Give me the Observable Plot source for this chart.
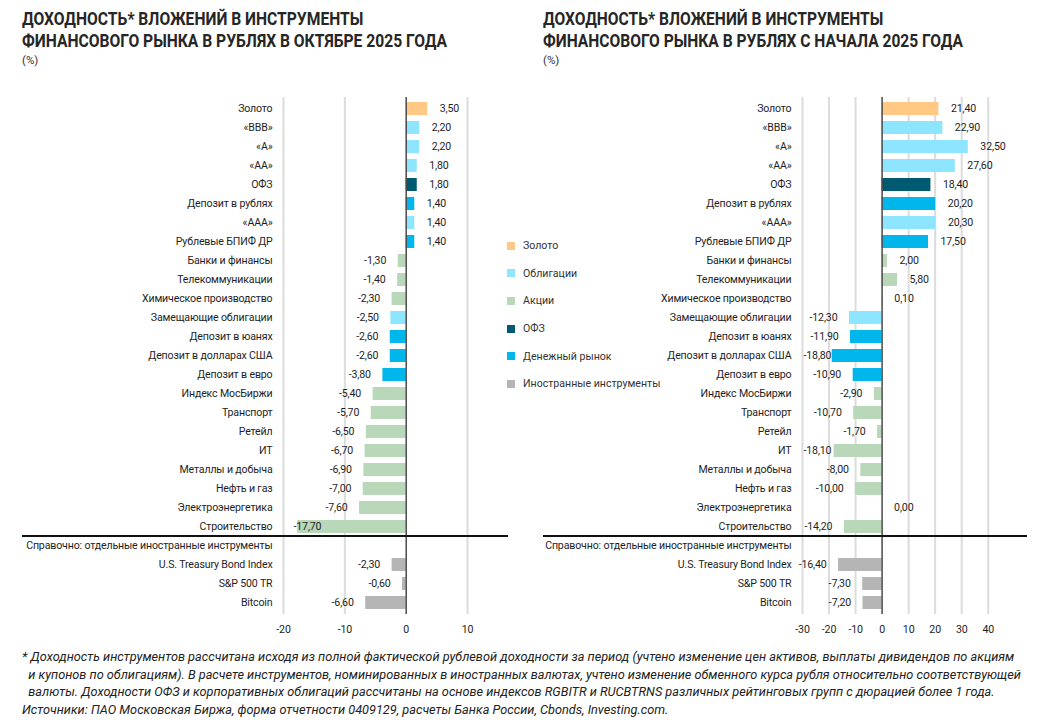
<!DOCTYPE html>
<html><head><meta charset="utf-8">
<script src="https://cdn.jsdelivr.net/npm/d3@7"></script>
<script src="https://cdn.jsdelivr.net/npm/@observablehq/plot@0.6"></script>
<style>
body{margin:0;background:#fff;width:1052px;height:724px;overflow:hidden;position:relative;font-family:Roboto,"Noto Sans",sans-serif;color:#1e1e1e}
.title{position:absolute;top:8px;font-family:Roboto,"Noto Sans",sans-serif;font-weight:bold;font-size:19px;line-height:22px;color:#262626;white-space:nowrap;transform-origin:0 0}
.title span{display:inline-block}
.unit{position:absolute;top:52px;font-family:Roboto,sans-serif;font-size:11.5px;line-height:16px;color:#333}
.panel{position:absolute;top:90px}
.legend{position:absolute;left:507px;top:232px;font-size:10.6px;color:#333}
.legend div{height:27.6px;display:flex;align-items:center;white-space:nowrap}
.legend span.sw{display:inline-block;width:8px;height:8px;margin-right:8px}
.note{position:absolute;left:22px;top:648px;font-family:Roboto,"Noto Sans",sans-serif;font-style:italic;font-size:12.5px;line-height:17.6px;color:#222;white-space:nowrap;transform-origin:0 0}
.note span{display:inline-block}
</style></head>
<body>
<div class="title" id="t1" style="left:22px"><span>ДОХОДНОСТЬ* ВЛОЖЕНИЙ В ИНСТРУМЕНТЫ</span><br><span class="fit">ФИНАНСОВОГО РЫНКА В РУБЛЯХ В ОКТЯБРЕ 2025 ГОДА</span></div>
<div class="unit" style="left:22px">(%)</div>
<div class="title" id="t2" style="left:543px"><span>ДОХОДНОСТЬ* ВЛОЖЕНИЙ В ИНСТРУМЕНТЫ</span><br><span class="fit">ФИНАНСОВОГО РЫНКА В РУБЛЯХ С НАЧАЛА 2025 ГОДА</span></div>
<div class="unit" style="left:543px">(%)</div>
<div id="left" class="panel" style="left:0px"></div>
<div id="right" class="panel" style="left:520px"></div>
<div id="legend" class="legend"></div>
<div class="note" id="note"><span>* Доходность инструментов рассчитана исходя из полной фактической рублевой доходности за период (учтено изменение цен активов, выплаты дивидендов по акциям</span><br><span class="fit">&nbsp;&nbsp;и купонов по облигациям). В расчете инструментов, номинированных в иностранных валютах, учтено изменение обменного курса рубля относительно соответствующей</span><br><span>&nbsp;&nbsp;валюты. Доходности ОФЗ и корпоративных облигаций рассчитаны на основе индексов RGBITR и RUCBTRNS различных рейтинговых групп с дюрацией более 1 года.</span><br><span>Источники: ПАО Московская Биржа, форма отчетности 0409129, расчеты Банка России, Cbonds, Investing.com.</span></div>
<script>
const categories = ["Золото","«BBB»","«A»","«AA»","ОФЗ","Депозит в рублях","«AAA»","Рублевые БПИФ ДР","Банки и финансы","Телекоммуникации","Химическое производство","Замещающие облигации","Депозит в юанях","Депозит в долларах США","Депозит в евро","Индекс МосБиржи","Транспорт","Ретейл","ИТ","Металлы и добыча","Нефть и газ","Электроэнергетика","Строительство","Справочно: отдельные иностранные инструменты","U.S. Treasury Bond Index","S&P 500 TR","Bitcoin"];
const groups = ["Золото","Облигации","Облигации","Облигации","ОФЗ","Денежный рынок","Облигации","Денежный рынок","Акции","Акции","Акции","Облигации","Денежный рынок","Денежный рынок","Денежный рынок","Акции","Акции","Акции","Акции","Акции","Акции","Акции","Акции",null,"Иностранные инструменты","Иностранные инструменты","Иностранные инструменты"];
const octoberValues = [3.5,2.2,2.2,1.8,1.8,1.4,1.4,1.4,-1.3,-1.4,-2.3,-2.5,-2.6,-2.6,-3.8,-5.4,-5.7,-6.5,-6.7,-6.9,-7.0,-7.6,-17.7,null,-2.3,-0.6,-6.6];
const ytdValues = [21.4,22.9,32.5,27.6,18.4,20.2,20.3,17.5,2.0,5.8,0.1,-12.3,-11.9,-18.8,-10.9,-2.9,-10.7,-1.7,-18.1,-8.0,-10.0,0.0,-14.2,null,-16.4,-7.3,-7.2];
const groupNames = ["Золото","Облигации","Акции","ОФЗ","Денежный рынок","Иностранные инструменты"];
const groupColors = ["#ffc985","#8ee5ff","#b9d7b9","#005a72","#00b6ea","#b5b5b5"];
const leftTicks = [-20,-10,0,10];
const rightTicks = [-30,-20,-10,0,10,20,30,40];

const fmt = v => v.toFixed(2).replace(".", ",");

function makePanel(values, o) {
  const rows = categories.map((name, i) => ({name, group: groups[i], value: values[i]}))
    .filter(d => d.value != null);
  const plotW = o.width - o.marginLeft - o.marginRight;
  const ppu = plotW / (o.domain[1] - o.domain[0]);
  const gap = 12, labelW = 30, tol = 8;
  const pos = [], neg = [], clamped = [];
  for (const d of rows) {
    const t = {name: d.name, x: d.value, text: fmt(d.value)};
    if (d.value >= 0) pos.push(t);
    else if ((d.value - o.domain[0]) * ppu - gap - labelW < -tol) clamped.push({...t, x: o.domain[0]});
    else neg.push(t);
  }
  const chart = Plot.plot({
    width: o.width, height: 554,
    marginTop: 7, marginBottom: 30, marginLeft: o.marginLeft, marginRight: o.marginRight,
    style: {fontFamily: "Roboto, 'Noto Sans', sans-serif", fontSize: "10.6px", letterSpacing: "-0.15px", color: "#1e1e1e", background: "transparent", overflow: "visible"},
    x: {domain: o.domain, ticks: o.ticks, tickFormat: d => String(d), tickSize: 0, tickPadding: 11, label: null},
    y: {domain: categories, paddingInner: 0.3, paddingOuter: 0.15, tickSize: 0, tickPadding: 11, label: null},
    color: {domain: groupNames, range: groupColors},
    marks: [
      Plot.ruleX(o.ticks.filter(t => t !== 0), {stroke: "#dcdcdc", strokeWidth: 2}),
      Plot.barX(rows, {x1: 0, x2: "value", y: "name", fill: "group"}),
      Plot.ruleX([0], {stroke: "#4a4a4a", strokeWidth: 1.5}),
      Plot.text(pos, {x: "x", y: "name", text: "text", textAnchor: "start", dx: gap, fill: "#1e1e1e"}),
      Plot.text(neg, {x: "x", y: "name", text: "text", textAnchor: "end", dx: -gap, fill: "#1e1e1e"}),
      Plot.text(clamped, {x: "x", y: "name", text: "text", textAnchor: "start", dx: o.clampDx, fill: "#1e1e1e"})
    ]
  });
  const ys = chart.scale("y");
  const k = categories.indexOf("Строительство");
  const ySep = (ys.apply(categories[k]) + ys.bandwidth + ys.apply(categories[k + 1])) / 2;
  d3.select(chart).append("line")
    .attr("x1", o.sepX[0]).attr("x2", o.sepX[1])
    .attr("y1", ySep).attr("y2", ySep)
    .attr("stroke", "#111").attr("stroke-width", 2);
  return chart;
}

document.getElementById("left").append(makePanel(octoberValues, {
  width: 520, marginLeft: 283, marginRight: 10, domain: [-20, 17], ticks: leftTicks, clampDx: 10, sepX: [22, 508]
}));
document.getElementById("right").append(makePanel(ytdValues, {
  width: 532, marginLeft: 282, marginRight: 51, domain: [-30, 45], ticks: rightTicks, clampDx: 1, sepX: [23, 507]
}));

const leg = d3.select("#legend");
groupNames.forEach((g, i) => {
  const row = leg.append("div");
  row.append("span").attr("class", "sw").style("background", groupColors[i]);
  row.append("span").text(g);
});

// fit text blocks to the reference widths
function fit(id, target) {
  const el = document.getElementById(id);
  const w = el.querySelector(".fit").getBoundingClientRect().width;
  el.style.transform = `scaleX(${target / w})`;
}
fit("t1", 425);
fit("t2", 420);
fit("note", 999);
</script>
</body></html>
